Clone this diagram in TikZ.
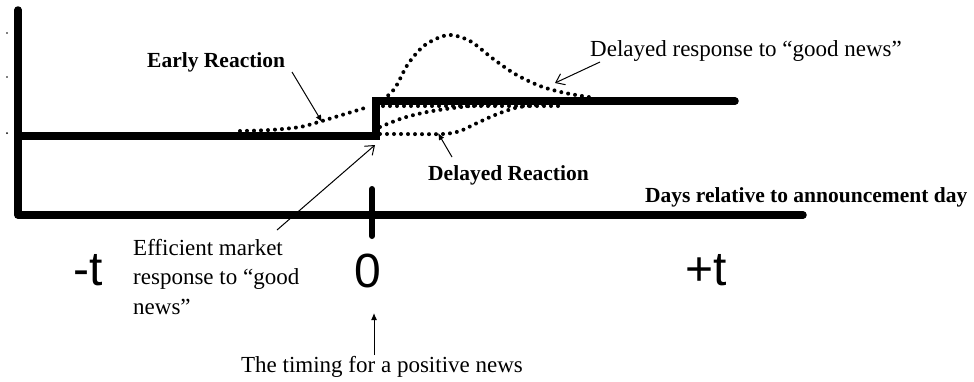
\documentclass[tikz,border=0pt]{standalone}
\usepackage{fontspec}
\setmainfont{Liberation Serif}
\newfontfamily\axisfont{Liberation Sans}
\usetikzlibrary{arrows.meta}
\tikzset{%
  thickline/.style = {line width=7.5pt, line cap=round, line join=round},%
  dotline/.style   = {line width=4pt, line cap=round, dash pattern=on 0pt off 7pt},%
  note/.style      = {inner sep=0pt, font=\fontsize{23}{29.5}\selectfont},%
  tag/.style       = {inner sep=0pt, font=\fontsize{21.5}{26}\selectfont\bfseries},%
  ticklabel/.style = {inner sep=0pt, font=\fontsize{48}{56}\selectfont\axisfont},%
  pointer/.style   = {line width=1pt},%
  fullhead/.style  = {pointer, -{Latex[length=7pt,width=6pt]}},%
  openhead/.style  = {pointer, -{Straight Barb[length=8pt,width=12pt]}}%
}
\begin{document}
\begin{tikzpicture}[x=1pt,y=-1pt]
		\useasboundingbox (0,0) rectangle (974,381);
		\fill (7,33) circle (0.8pt) (7,77) circle (0.8pt) (7,133) circle (1pt);
		\draw[thickline] (18,10) -- (18,215) -- (803,215);
		\draw[line width=6pt, line cap=round] (372,189) -- (372,236);
		\draw[thickline, line join=miter, line cap=round] (18,136) -- (376,136) -- (376,101) -- (735,101);
		\draw[dotline] plot[smooth] coordinates {(240,131) (270,130) (300,127) (322,121) (345,114) (368,107)};
		\draw[dotline] plot[smooth] coordinates {(383,100) (395,88) (408,64) (425,45) (448,35) (470,41) (492,58) (515,74) (540,86) (565,93) (595,98)};
		\draw[dotline] plot[smooth] coordinates {(380,127) (403,118) (427,112) (453,108) (480,105) (500,104)};
		\draw[dotline] (383,106) -- (565,106);
		\draw[dotline] plot[smooth] coordinates {(380,134) (400,134) (443,134) (460,131) (475,124) (495,115) (515,108) (535,105) (562,102)};
		\node[tag] (early) at (147,67) [anchor=base west] {Early Reaction};
		\node[tag] (delayed) at (428,180) [anchor=base west] {Delayed Reaction};
		\node[tag] (days) at (645,202) [anchor=base west] {Days relative to announcement day};
		\node[note] (response) at (590,56) [anchor=base west] {Delayed response to “good news”};
		\node[note, align=left] (efficient) at (133,239) [anchor=north west] {Efficient market\\response to “good\\news”};
		\node[note] (timing) at (382,372) [anchor=base] {The timing for a positive news};
		\node[ticklabel] (minus) at (73,285) [anchor=base west] {-t};
		\node[ticklabel] (zero) at (368,287) [anchor=base] {0};
		\node[ticklabel] (plus) at (685,285) [anchor=base west] {+t};
		\coordinate (earlypt) at (322,122);
		\coordinate (delayedpt) at (438,133);
		\coordinate (responsept) at (555,83);
		\coordinate (jumppt) at (375,145);
		\coordinate (newspt) at (374,313);
		\draw[fullhead] (292,72) -- (earlypt);
		\draw[fullhead] (452,157) -- (delayedpt);
		\draw[openhead] (600,62) -- (responsept);
		\draw[openhead] (277,230) -- (jumppt);
		\draw[fullhead] (374,355) -- (newspt);
	\end{tikzpicture}
\end{document}
